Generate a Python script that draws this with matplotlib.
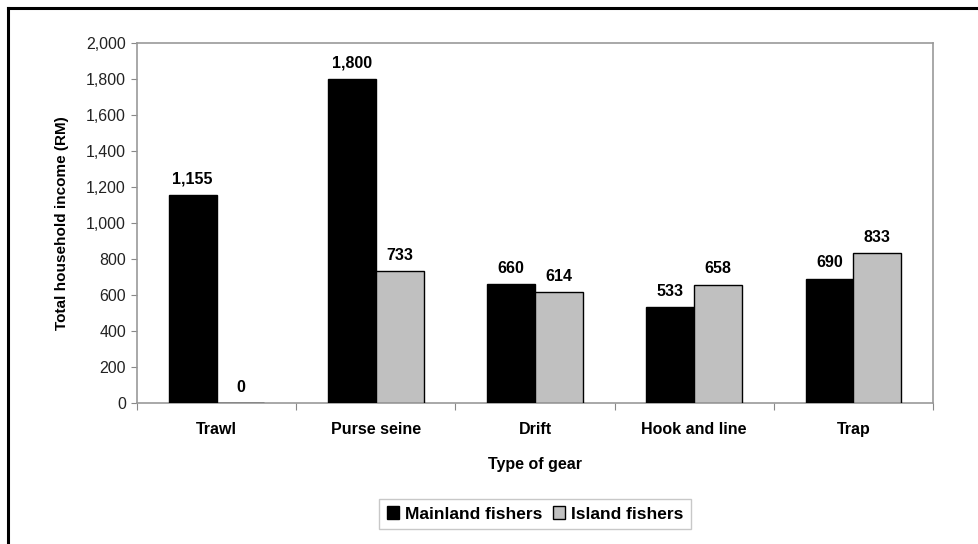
import matplotlib
matplotlib.use("Agg")
import matplotlib.pyplot as plt
from matplotlib.lines import Line2D
from matplotlib.ticker import FuncFormatter, FixedLocator, NullFormatter
import numpy as np

plt.rcParams['font.family'] = ['Liberation Sans', 'DejaVu Sans']

gears = ["Trawl", "Purse seine", "Drift", "Hook and line", "Trap"]
mainland = [1155, 1800, 660, 533, 690]
island = [0, 733, 614, 658, 833]
series_names = ["Mainland fishers", "Island fishers"]
yticks = [0, 200, 400, 600, 800, 1000, 1200, 1400, 1600, 1800, 2000]

W, H = 979, 544
fig = plt.figure(figsize=(W / 100, H / 100), dpi=100)
ax = fig.add_axes([137 / W, 1 - 403 / H, (933 - 137) / W, (403 - 43) / H])

FS = 11.5

x = np.arange(len(gears))
bw = 0.30
ax.bar(x - bw / 2, mainland, bw, color="black", edgecolor="black", linewidth=1.0,
       label=series_names[0], zorder=3)
ax.bar(x + bw / 2, island, bw, color="#c0c0c0", edgecolor="black", linewidth=1.0,
       label=series_names[1], zorder=3)

for xi, v in zip(x - bw / 2, mainland):
    ax.annotate(f"{v:,}", (xi, v), xytext=(0, 6), textcoords="offset points",
                ha="center", va="bottom", fontsize=FS, fontweight="bold")
for xi, v in zip(x + bw / 2, island):
    ax.annotate(f"{v:,}", (xi, v), xytext=(0, 6), textcoords="offset points",
                ha="center", va="bottom", fontsize=FS, fontweight="bold")

ax.set_xlim(-0.5, len(gears) - 0.5)
ax.set_ylim(0, 2000)
ax.set_yticks(yticks)
ax.yaxis.set_major_formatter(FuncFormatter(lambda v, p: f"{int(v):,}"))
ax.tick_params(axis="y", labelsize=FS, length=4, color="#888888", pad=4,
               labelcolor="#222222")

# category labels centred, tick marks on group boundaries
ax.xaxis.set_major_locator(FixedLocator(np.arange(-0.5, len(gears), 1.0)))
ax.xaxis.set_major_formatter(NullFormatter())
ax.xaxis.set_minor_locator(FixedLocator(x))
ax.set_xticklabels(gears, minor=True, fontsize=FS, fontweight="bold")
ax.tick_params(axis="x", which="major", length=5, color="#888888")
ax.tick_params(axis="x", which="minor", length=0, pad=14)

for s in ax.spines.values():
    s.set_color("#999999")
    s.set_linewidth(1.2)

ax.set_xlabel("Type of gear", fontsize=FS, fontweight="bold", labelpad=14)
ax.set_ylabel("Total household income (RM)", fontsize=FS - 0.5, fontweight="bold",
              labelpad=12)

leg = fig.legend(loc="center", bbox_to_anchor=(535 / W, 1 - 514 / H),
                 ncol=2, frameon=True, fancybox=False,
                 prop={"weight": "bold", "size": 12.5},
                 handlelength=0.7, handleheight=0.7, handletextpad=0.35,
                 columnspacing=0.6, borderpad=0.45)
leg.get_frame().set_edgecolor("#bbbbbb")
leg.get_frame().set_linewidth(1.0)
for p in leg.get_patches():
    p.set_edgecolor("black")

# outer frame lines along the left and top edges
fig.add_artist(Line2D([8 / W, 8 / W], [0, 1 - 8 / H], transform=fig.transFigure,
                      color="black", linewidth=2.2))
fig.add_artist(Line2D([8 / W, 1], [1 - 8 / H, 1 - 8 / H], transform=fig.transFigure,
                      color="black", linewidth=2.2))

fig.savefig("out.png", dpi=100, facecolor="white")
